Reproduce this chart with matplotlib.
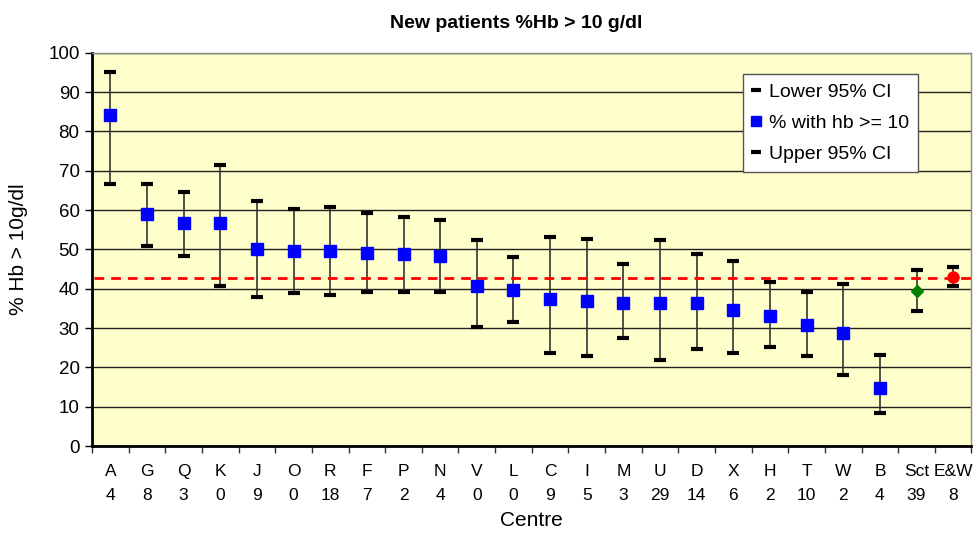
import matplotlib
matplotlib.use('agg')
import matplotlib.pyplot as plt
import numpy as np
from matplotlib.lines import Line2D

centres = ['A', 'G', 'Q', 'K', 'J', 'O', 'R', 'F', 'P', 'N', 'V', 'L', 'C', 'I',
           'M', 'U', 'D', 'X', 'H', 'T', 'W', 'B', 'Sct', 'E&W']
counts = ['4', '8', '3', '0', '9', '0', '18', '7', '2', '4', '0', '0', '9', '5',
          '3', '29', '14', '6', '2', '10', '2', '4', '39', '8']
pct = [84.2, 59.1, 56.8, 56.8, 50.0, 49.5, 49.5, 49.2, 48.8, 48.4, 40.8, 39.6,
       37.5, 36.8, 36.4, 36.4, 36.4, 34.5, 33.2, 30.8, 28.8, 14.8, 39.5, 43.1]
lower = [66.7, 50.8, 48.4, 40.8, 38.0, 38.8, 38.4, 39.2, 39.2, 39.2, 30.4, 31.6,
         23.6, 22.9, 27.6, 22.0, 24.8, 23.6, 25.2, 22.9, 18.0, 8.5, 34.4, 40.7]
upper = [95.0, 66.7, 64.7, 71.4, 62.4, 60.3, 60.7, 59.2, 58.3, 57.5, 52.4, 48.0,
         53.1, 52.7, 46.4, 52.4, 48.8, 47.1, 41.6, 39.2, 41.2, 23.2, 44.7, 45.6]
ref_line = 42.8

plt.rcParams['font.family'] = ['Liberation Sans', 'DejaVu Sans']

fig = plt.figure(figsize=(9.75, 5.33), dpi=100)
ax = fig.add_axes([0.0944, 0.163, 0.902, 0.738])
ax.set_facecolor('#FFFFCC')

x = np.arange(len(centres))
ax.vlines(x, lower, upper, color='#333333', lw=1.2, zorder=2)
ax.plot(x, lower, ls='none', marker='_', ms=8, mew=3, color='black', zorder=3)
ax.plot(x, upper, ls='none', marker='_', ms=8, mew=3, color='black', zorder=3)

n = len(centres) - 2
ax.plot(x[:n], pct[:n], ls='none', marker='s', ms=8, color='#0000FF', zorder=4)
ax.plot(x[n], pct[n], ls='none', marker='D', ms=6, color='#008000', zorder=4)
ax.plot(x[n + 1], pct[n + 1], ls='none', marker='o', ms=8, color='#FF0000', zorder=4)

ax.plot([-0.5 + 0.05, len(centres) - 0.5], [ref_line, ref_line], color='#FF0000',
        ls=(0, (3.5, 2.5)), lw=2, zorder=3)

ax.set_xlim(-0.5, len(centres) - 0.5)
ax.set_ylim(0, 100)
ax.set_yticks(np.arange(0, 101, 10))
ax.yaxis.grid(True, color='#222222', lw=1)
ax.set_axisbelow(True)

ax.set_xticks(x)
ax.set_xticklabels([c + '\n' + k for c, k in zip(centres, counts)], fontsize=12.5,
                   linespacing=1.75)
ax.tick_params(axis='x', length=0, pad=13)
ax.set_xticks(np.arange(-0.5, len(centres), 1), minor=True)
ax.tick_params(axis='x', which='minor', length=5, width=1, color='#333333')
ax.tick_params(axis='y', length=5, width=1, labelsize=13.5, pad=4)

for s in ['left', 'bottom']:
    ax.spines[s].set_linewidth(2)
    ax.spines[s].set_color('black')
for s in ['right', 'top']:
    ax.spines[s].set_linewidth(1)
    ax.spines[s].set_color('#888888')

ax.set_ylabel('% Hb > 10g/dl', fontsize=15)
ax.yaxis.set_label_coords(-0.073, 0.5)
ax.set_xlabel('Centre', fontsize=15)
ax.xaxis.set_label_coords(0.5, -0.165)
fig.text(516 / 975, 1 - 23 / 533, 'New patients %Hb > 10 g/dl', fontsize=14,
         fontweight='bold', ha='center', va='center')

handles = [
    Line2D([], [], ls='none', marker='_', ms=7, mew=3, color='black'),
    Line2D([], [], ls='none', marker='s', ms=7, color='#0000FF'),
    Line2D([], [], ls='none', marker='_', ms=7, mew=3, color='black'),
]
leg = ax.legend(handles, ['Lower 95% CI', '% with hb >= 10', 'Upper 95% CI'],
                loc='upper left', bbox_to_anchor=(0.74, 0.945), fontsize=14,
                frameon=True, fancybox=False, handlelength=0.5, handletextpad=0.4,
                labelspacing=0.7, borderpad=0.45, borderaxespad=0)
leg.get_frame().set_edgecolor('#555555')
leg.get_frame().set_facecolor('white')
leg.get_frame().set_alpha(1)
leg.get_frame().set_linewidth(1)

fig.savefig('out.png', dpi=100)
